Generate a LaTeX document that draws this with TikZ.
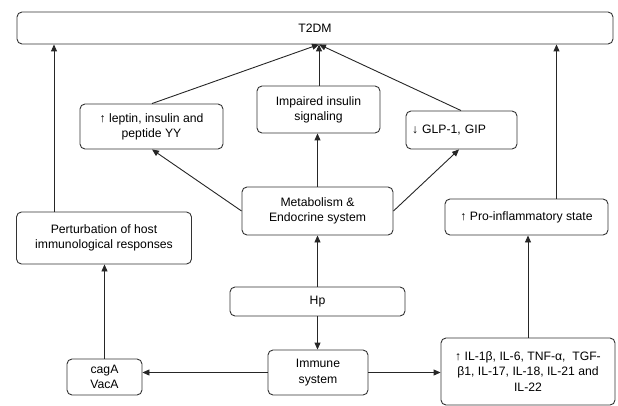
\documentclass[tikz,border=0pt]{standalone}
\usepackage{fontspec}
\setmainfont{Liberation Sans}
\usetikzlibrary{arrows.meta}
\begin{document}
\begin{tikzpicture}[x=1pt,y=-1pt,
  box/.style={draw=black!80,line width=0.9pt,rounded corners=5pt,align=center,
    inner sep=0pt,font=\fontsize{12.2}{15.2}\selectfont},
  arr/.style={draw=black!85,line width=0.9pt,-{Triangle[length=7pt,width=6pt]}}]
\useasboundingbox (0,0) rectangle (618,406);
\node[box,minimum width=596pt,minimum height=32pt] (t2dm) at (315,28) {T2DM};
\node[box,minimum width=143pt,minimum height=45pt] (lep) at (151.5,126.5) {↑ leptin, insulin and\\peptide YY};
\node[box,minimum width=123pt,minimum height=47pt] (imp) at (318.5,109.5) {Impaired insulin\\signaling};
\node[box,minimum width=111pt,minimum height=38pt,text width=99pt,align=left] (glp) at (461.5,130) {↓ GLP-1, GIP\\[3pt]};
\node[box,minimum width=151pt,minimum height=48pt] (met) at (317.5,211) {Metabolism \&\\Endocrine system};
\node[box,minimum width=163pt,minimum height=36pt] (pro) at (526.5,217) {↑ Pro-inflammatory state};
\node[box,minimum width=175pt,minimum height=52pt] (per) at (104,238) {Perturbation of host\\immunological responses};
\node[box,minimum width=175pt,minimum height=29pt] (hp) at (317.5,301.5) {Hp};
\node[box,minimum width=75pt,minimum height=36pt] (cag) at (104.5,377) {cagA\\VacA};
\node[box,minimum width=100pt,minimum height=45pt] (imm) at (318,372.5) {Immune\\system};
\node[box,minimum width=174pt,minimum height=67pt] (il) at (528,371.5) {↑ IL-1β, IL-6, TNF-α,\ \ TGF-\\β1, IL-17, IL-18,\ IL-21 and\\IL-22};
\coordinate (lx) at (54,0);
\coordinate (rx) at (556.5,0);
\coordinate (cx) at (319,0);
\coordinate (lepx) at (152,0);
\coordinate (glpx) at (461,0);
\coordinate (glpx2) at (459,0);
\draw[arr] (per.north -| lx) -- (t2dm.south -| lx);
\draw[arr] (pro.north -| rx) -- (t2dm.south -| rx);
\draw[arr] (lep.north -| lepx) -- (t2dm.south -| cx);
\draw[arr] (imp.north -| cx) -- (t2dm.south -| cx);
\draw[arr] (glp.north -| glpx) -- (t2dm.south -| cx);
\draw[arr] (met.west) -- (lep.south -| lepx);
\draw[arr] (met.north) -- (imp.south -| met.north);
\draw[arr] (met.east) -- (glp.south -| glpx2);
\draw[arr] (hp.north) -- (met.south);
\draw[arr] (hp.south) -- (imm.north -| hp.south);
\draw[arr] (imm.west) -- (imm.west -| cag.east);
\draw[arr] (imm.east) -- (imm.east -| il.west);
\draw[arr] (cag.north) -- (per.south -| cag.north);
\draw[arr] (il.north) -- (il.north |- pro.south);
\end{tikzpicture}
\end{document}
